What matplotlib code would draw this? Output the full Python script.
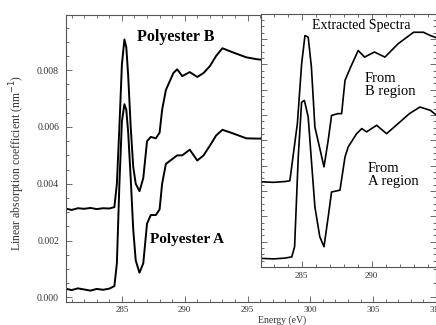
import matplotlib
matplotlib.use("Agg")
import matplotlib.pyplot as plt
from matplotlib.ticker import MultipleLocator, FormatStrFormatter

plt.rcParams['font.family'] = ['Liberation Serif', 'DejaVu Serif']

# ---- main panel data (energy in eV, linear absorption coefficient in nm^-1)
energy_main = [280.6, 281.0, 281.5, 282.0, 282.5, 283.0, 283.5, 284.0, 284.4, 284.6,
               284.8, 285.0, 285.2, 285.35, 285.5, 285.7, 285.9, 286.1, 286.4, 286.7,
               287.0, 287.3, 287.7, 288.0, 288.2, 288.5, 288.8, 289.1, 289.4, 289.8,
               290.4, 291.0, 291.5, 292.0, 292.5, 293.0, 293.8, 294.9, 295.8, 296.5]
polyester_b = [0.00312, 0.00308, 0.00314, 0.00312, 0.00315, 0.00311, 0.00314, 0.00313, 0.00318, 0.0040,
               0.0060, 0.0082, 0.00908, 0.0088, 0.0078, 0.0060, 0.0046, 0.0040, 0.00374, 0.0042,
               0.0055, 0.00565, 0.0056, 0.0058, 0.0066, 0.0073, 0.0076, 0.0079, 0.00803, 0.00779,
               0.00793, 0.00776, 0.0079, 0.00814, 0.0085, 0.00877, 0.00863, 0.00845, 0.00838, 0.00835]
polyester_a = [0.00030, 0.00026, 0.00032, 0.00028, 0.00024, 0.00030, 0.00027, 0.00031, 0.00040, 0.0012,
               0.0040, 0.0062, 0.0068, 0.0066, 0.0058, 0.0042, 0.0024, 0.0013, 0.00087, 0.0012,
               0.0026, 0.0029, 0.0029, 0.0031, 0.0040, 0.0047, 0.0048, 0.0049, 0.0050, 0.0050,
               0.0052, 0.00482, 0.0050, 0.00534, 0.0057, 0.0059, 0.00578, 0.0056, 0.00559, 0.0056]

main_xticks = [285, 290, 295, 300, 305, 310]
main_yticks = [0.000, 0.002, 0.004, 0.006, 0.008]

# ---- inset data (extracted spectra, arbitrary units)
energy_b_ins = [282.1, 283.0, 283.8, 284.16, 284.7, 285.0, 285.24, 285.47, 285.7, 285.95,
                286.6, 286.9, 287.14, 287.6, 287.86, 288.1, 288.45, 289.04, 289.5, 290.2,
                290.95, 291.9, 293.0, 293.7, 294.2, 294.6]
from_b = [0.336, 0.334, 0.337, 0.340, 0.567, 0.80, 0.913, 0.907, 0.789, 0.552,
          0.395, 0.500, 0.598, 0.605, 0.605, 0.736, 0.782, 0.854, 0.828, 0.848,
          0.828, 0.881, 0.926, 0.926, 0.913, 0.905]
energy_a_ins = [282.1, 283.0, 283.8, 284.3, 284.5, 284.76, 285.0, 285.2, 285.47, 285.7,
                285.95, 286.3, 286.6, 286.9, 287.14, 287.74, 288.1, 288.33, 288.93, 289.3,
                289.64, 290.36, 291.07, 291.9, 292.7, 293.45, 294.2, 294.6]
from_a = [0.034, 0.032, 0.035, 0.040, 0.080, 0.434, 0.650, 0.657, 0.592, 0.421,
          0.237, 0.119, 0.080, 0.198, 0.296, 0.303, 0.434, 0.474, 0.526, 0.546,
          0.533, 0.559, 0.526, 0.566, 0.605, 0.631, 0.618, 0.600]
inset_xticks = [285, 290]

W, H = 436, 325
fig = plt.figure(figsize=(W / 100, H / 100), dpi=100)

def box(l, t, r, b):
    return [l / W, 1 - b / H, (r - l) / W, (b - t) / H]

frame_col = '#555555'
lab_col = '#333333'

ax = fig.add_axes(box(66, 15, 436, 302))
ax.plot(energy_main, polyester_b, color='black', lw=1.4)
ax.plot(energy_main, polyester_a, color='black', lw=1.4)
ax.set_xlim(280.55, 310)
ax.set_ylim(-0.00016, 0.00994)
ax.set_xticks(main_xticks)
ax.set_yticks(main_yticks)
ax.xaxis.set_minor_locator(MultipleLocator(1))
ax.yaxis.set_minor_locator(MultipleLocator(0.0005))
ax.yaxis.set_major_formatter(FormatStrFormatter('%.3f'))
ax.tick_params(which='both', direction='in', top=True, right=True, colors=frame_col,
               labelcolor=lab_col, width=0.6)
ax.tick_params(axis='y', labelsize=7, pad=5)
ax.tick_params(axis='x', labelsize=6.5, pad=3)
ax.tick_params(which='major', length=4)
ax.tick_params(which='minor', length=2)
for s in ax.spines.values():
    s.set_color(frame_col)
    s.set_linewidth(0.8)

fig.text(17 / W, 1 - 163 / H, 'Linear absorption coefficient (nm$^{-1}$)', rotation=90,
         ha='center', va='center', fontsize=8.5, color=lab_col)
fig.text(282 / W, 1 - 320 / H, 'Energy (eV)', ha='center', va='center', fontsize=7,
         color=lab_col)
fig.text(176 / W, 1 - 37 / H, 'Polyester B', ha='center', va='center', fontsize=11.5,
         fontweight='bold')
fig.text(187 / W, 1 - 240 / H, 'Polyester A', ha='center', va='center', fontsize=11,
         fontweight='bold')

ins = fig.add_axes(box(261, 13.5, 436, 267))
ins.set_facecolor('white')
ins.plot(energy_b_ins, from_b, color='black', lw=1.2)
ins.plot(energy_a_ins, from_a, color='black', lw=1.2)
ins.set_xlim(282.1, 294.6)
ins.set_ylim(0, 1)
ins.set_xticks(inset_xticks)
ins.xaxis.set_minor_locator(MultipleLocator(1))
ins.yaxis.set_minor_locator(MultipleLocator(0.025))
ins.yaxis.set_major_locator(MultipleLocator(0.1))
ins.set_yticklabels([])
ins.tick_params(which='both', direction='in', top=True, right=True, colors=frame_col,
                labelcolor=lab_col, labelsize=6.5, width=0.6)
ins.tick_params(which='major', length=4)
ins.tick_params(which='minor', length=2)
for s in ins.spines.values():
    s.set_color(frame_col)
    s.set_linewidth(0.8)

fig.text(361 / W, 1 - 25 / H, 'Extracted Spectra', ha='center', va='center', fontsize=10)
fig.text(365 / W, 1 - 85 / H, 'From\nB region', ha='left', va='center', fontsize=10.5,
         linespacing=1.05)
fig.text(368 / W, 1 - 175 / H, 'From\nA region', ha='left', va='center', fontsize=10.5,
         linespacing=1.05)

fig.savefig('out.png', dpi=100)
